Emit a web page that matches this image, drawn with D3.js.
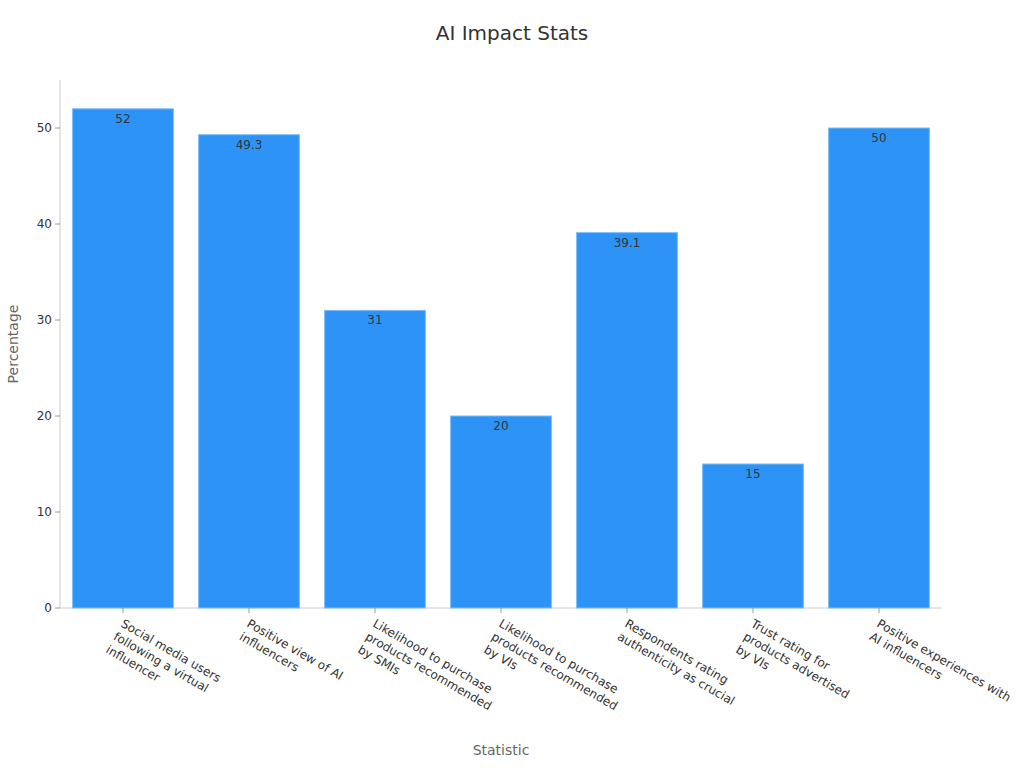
<!DOCTYPE html>
<html><head><meta charset="utf-8">
<script src="https://cdn.jsdelivr.net/npm/d3@7"></script>
<style>body{margin:0;background:#fff;font-family:"DejaVu Sans",sans-serif;}</style>
</head><body><svg id="c" width="1024" height="768"></svg>
<script>
const categories = [
 ["Social media users","following a virtual","influencer"],
 ["Positive view of AI","influencers"],
 ["Likelihood to purchase","products recommended","by SMIs"],
 ["Likelihood to purchase","products recommended","by VIs"],
 ["Respondents rating","authenticity as crucial"],
 ["Trust rating for","products advertised","by VIs"],
 ["Positive experiences with","AI influencers"]
];
const values = [52, 49.3, 31, 20, 39.1, 15, 50];
const yTicks = [0,10,20,30,40,50];

const svg = d3.select("#c");
const m = {l:60, r:82, t:80, b:160};
const W = 1024, H = 768;
const x = d3.scaleBand().domain(d3.range(values.length)).range([m.l, W-m.r]).paddingInner(0.2).paddingOuter(0.1);
const y = d3.scaleLinear().domain([0,55]).range([H-m.b, m.t]);

svg.append("text").attr("x",512).attr("y",40).attr("text-anchor","middle")
  .attr("font-size",20).attr("fill","#333").text("AI Impact Stats");

// axes lines
svg.append("line").attr("x1",m.l).attr("x2",m.l).attr("y1",m.t).attr("y2",H-m.b).attr("stroke","#ccc");
svg.append("line").attr("x1",m.l).attr("x2",W-m.r).attr("y1",H-m.b).attr("y2",H-m.b).attr("stroke","#ccc");

const yg = svg.append("g");
yTicks.forEach(t=>{
  yg.append("line").attr("x1",m.l-5).attr("x2",m.l).attr("y1",y(t)).attr("y2",y(t)).attr("stroke","#999");
  yg.append("text").attr("x",m.l-8).attr("y",y(t)).attr("dy","0.35em").attr("text-anchor","end")
    .attr("font-size",12).attr("fill","#333").text(t);
});

svg.selectAll("rect.bar").data(values).join("rect").attr("class","bar")
  .attr("x",(d,i)=>x(i)).attr("width",x.bandwidth())
  .attr("y",d=>y(d)).attr("height",d=>y(0)-y(d))
  .attr("fill","#2e93f7").attr("stroke","#7dbdf9").attr("stroke-width",1);

svg.selectAll("text.val").data(values).join("text").attr("class","val")
  .attr("x",(d,i)=>x(i)+x.bandwidth()/2).attr("y",d=>y(d)+14)
  .attr("text-anchor","middle").attr("font-size",12).attr("fill","#333").text(d=>d);

categories.forEach((lines,i)=>{
  const cx = x(i)+x.bandwidth()/2;
  svg.append("line").attr("x1",cx).attr("x2",cx).attr("y1",H-m.b).attr("y2",H-m.b+5).attr("stroke","#999");
  const t = svg.append("text").attr("transform",`translate(${cx-3},${H-m.b+18}) rotate(30)`)
    .attr("font-size",12).attr("fill","#333");
  lines.forEach((l,j)=>t.append("tspan").attr("x",0).attr("y",j*15).text(l));
});

svg.append("text").attr("x",(m.l+W-m.r)/2).attr("y",755).attr("text-anchor","middle")
  .attr("font-size",14).attr("fill","#666").text("Statistic");
svg.append("text").attr("transform",`translate(18,${(m.t+H-m.b)/2}) rotate(-90)`).attr("text-anchor","middle")
  .attr("font-size",14).attr("fill","#666").text("Percentage");
</script></body></html>
